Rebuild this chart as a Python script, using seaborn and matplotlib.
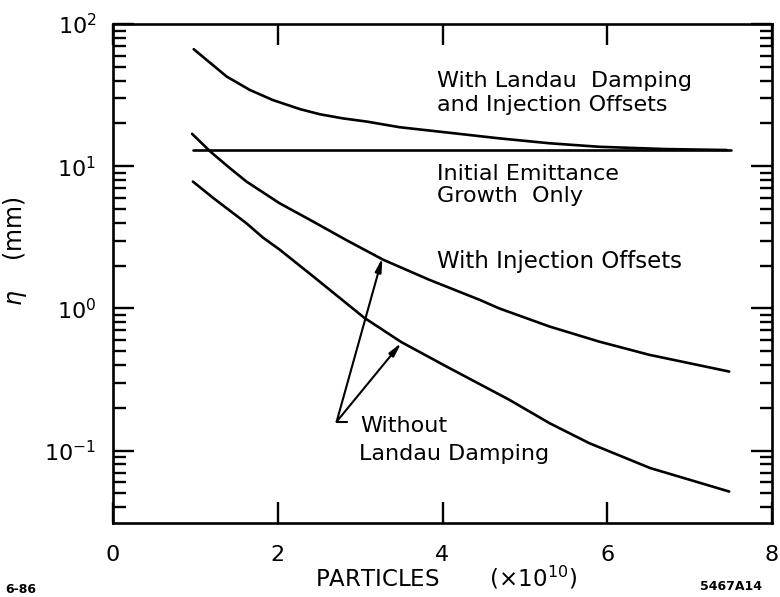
import numpy as np
import pandas as pd
import seaborn as sns
import matplotlib
matplotlib.use("Agg")
import matplotlib.pyplot as plt
from matplotlib.ticker import FixedLocator, LogLocator, NullFormatter, FixedFormatter

# ---- data ----
x_landau = [0.98, 1.38, 1.66, 1.94, 2.27, 2.51, 2.79, 3.08, 3.48, 4.08, 4.69, 5.30, 5.90, 6.71, 7.45]
y_landau = [66.5, 42.7, 34.4, 29.2, 25.2, 23.2, 21.7, 20.6, 18.8, 17.2, 15.7, 14.5, 13.7, 13.2, 13.0]

x_initial = [0.97, 7.5]
y_initial = [13.0, 13.0]

x_offsets = [0.96, 1.18, 1.42, 1.62, 2.02, 2.43, 2.83, 3.28, 3.84, 4.45, 4.69, 5.30, 5.90, 6.51, 7.48]
y_offsets = [16.9, 12.7, 9.68, 7.8, 5.5, 4.08, 3.03, 2.2, 1.59, 1.15, 1.0, 0.746, 0.585, 0.472, 0.36]

x_nolandau = [0.97, 1.22, 1.62, 1.82, 2.02, 2.43, 3.05, 3.50, 4.05, 4.81, 5.30, 5.78, 6.52, 7.48]
y_nolandau = [7.8, 5.96, 3.97, 3.15, 2.6, 1.68, 0.86, 0.58, 0.39, 0.228, 0.156, 0.113, 0.0755, 0.0516]

x_ticks = [0, 2, 4, 6, 8]
x_ticklabels = ["0", "2", "4", "6", "8"]
y_ticks = [0.1, 1, 10, 100]
y_ticklabels = [r"$\mathregular{10^{-1}}$", r"$\mathregular{10^{0}}$",
                r"$\mathregular{10^{1}}$", r"$\mathregular{10^{2}}$"]

sns.set_style("ticks")
plt.rcParams["font.family"] = ["DejaVu Sans"]
plt.rcParams["text.color"] = "black"
plt.rcParams["axes.labelcolor"] = "black"
plt.rcParams["xtick.color"] = "black"
plt.rcParams["ytick.color"] = "black"

W, H = 780, 597
fig = plt.figure(figsize=(W / 100, H / 100), dpi=100)
ax = fig.add_axes([113 / W, 1 - 523 / H, (772 - 113) / W, (523 - 24) / H])

series = [(x_landau, y_landau), (x_initial, y_initial),
          (x_offsets, y_offsets), (x_nolandau, y_nolandau)]
for xs, ys in series:
    df = pd.DataFrame({"x": xs, "y": ys})
    sns.lineplot(data=df, x="x", y="y", ax=ax, color="black", lw=1.9,
                 estimator=None, sort=True)

ax.set_yscale("log")
ax.set_xlim(0, 8)
ax.set_ylim(0.031, 100)

ax.xaxis.set_major_locator(FixedLocator(x_ticks))
ax.xaxis.set_major_formatter(FixedFormatter(x_ticklabels))
ax.yaxis.set_major_locator(FixedLocator(y_ticks))
ax.yaxis.set_major_formatter(FixedFormatter(y_ticklabels))
ax.yaxis.set_minor_locator(LogLocator(base=10, subs=np.arange(2, 10)))
ax.yaxis.set_minor_formatter(NullFormatter())

ax.tick_params(which="both", direction="in", left=True, right=True,
               top=True, bottom=True, colors="black", labelcolor="black", width=1.7)
ax.tick_params(which="major", length=15)
ax.tick_params(which="minor", length=9)
ax.tick_params(axis="x", which="major", labelsize=16, pad=16)
ax.tick_params(axis="y", which="major", labelsize=16, pad=12)

for s in ax.spines.values():
    s.set_linewidth(1.9)
    s.set_color("black")

ax.set_xlabel(r"PARTICLES       (×10$^{10}$)", fontsize=16.5)
ax.xaxis.label.set_va("baseline")
ax.xaxis.set_label_coords(0.505, -0.128)
ax.set_ylabel(r"$\eta$    (mm)", fontsize=17)
ax.yaxis.set_label_coords(-0.128, 0.545)

# annotations
def ftext(px, py, s, **kw):
    fig.text(px / W, 1 - py / H, s, va="baseline", ha="left", color="black", **kw)

ftext(437, 87, "With Landau  Damping", fontsize=16)
ftext(437, 111, "and Injection Offsets", fontsize=16)
ftext(437, 180, "Initial Emittance", fontsize=16)
ftext(437, 202, "Growth  Only", fontsize=16)
ftext(437, 268, "With Injection Offsets", fontsize=16.5)
ftext(360, 432, "Without", fontsize=16)
ftext(359, 460, "Landau Damping", fontsize=16)
ftext(5, 593, "6-86", fontsize=9, fontweight="bold")
ftext(700, 590, "5467A14", fontsize=9, fontweight="bold")

# arrows from label to curves
origin = (2.715, 0.16)
ax.plot([origin[0], 2.84], [origin[1], origin[1]], color="black", lw=1.5)
for tip in [(3.27, 2.27), (3.50, 0.573)]:
    ax.annotate("", xy=tip, xytext=origin,
                arrowprops=dict(arrowstyle="-|>,head_length=0.8,head_width=0.18",
                                color="black", lw=1.5, shrinkA=0, shrinkB=0))

ax.set_facecolor("white")
fig.patch.set_facecolor("white")
fig.savefig("out.png", dpi=100)
